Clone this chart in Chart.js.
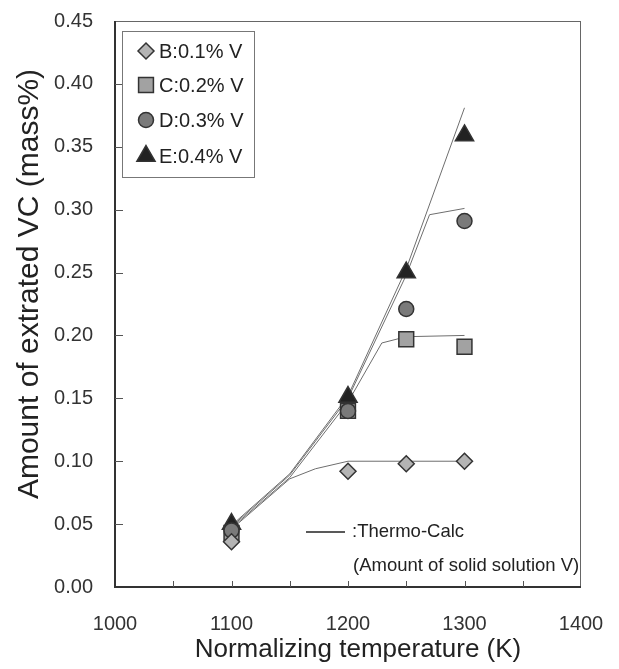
<!DOCTYPE html>
<html>
<head>
<meta charset="utf-8">
<script src="https://cdn.jsdelivr.net/npm/chart.js@4/dist/chart.umd.min.js"></script>
<style>
  html, body { margin: 0; padding: 0; background: #fff; }
  #wrap { width: 619px; height: 669px; position: relative; }
</style>
</head>
<body>
<div id="wrap"><canvas id="vc-chart"></canvas></div>
<script>
// Measured amounts of extracted VC at each normalizing temperature
const temps = [1100, 1200, 1250, 1300];
const steelB = [0.036, 0.092, 0.098, 0.100];
const steelC = [0.043, 0.140, 0.197, 0.191];
const steelD = [0.045, 0.140, 0.221, 0.291];
const steelE = [0.050, 0.151, 0.250, 0.359];

// Thermo-Calc curves (amount of V in solid solution)
const calcBx = [1100, 1150, 1172, 1200, 1300];
const calcBy = [0.046, 0.086, 0.094, 0.100, 0.100];
const calcCx = [1100, 1150, 1200, 1229, 1250, 1300];
const calcCy = [0.047, 0.087, 0.147, 0.194, 0.199, 0.200];
const calcDx = [1100, 1150, 1200, 1250, 1270, 1300];
const calcDy = [0.048, 0.089, 0.150, 0.248, 0.296, 0.301];
const calcEx = [1100, 1150, 1200, 1250, 1300];
const calcEy = [0.049, 0.090, 0.152, 0.253, 0.381];

const xTicks = [1000, 1100, 1200, 1300, 1400];
const xMinorTicks = [1050, 1100, 1150, 1200, 1250, 1300, 1350];
const yTicks = [0.05, 0.10, 0.15, 0.20, 0.25, 0.30, 0.35, 0.40];

const legendLabels = ['B:0.1% V', 'C:0.2% V', 'D:0.3% V', 'E:0.4% V'];
const xTitle = 'Normalizing temperature (K)';
const yTitle = 'Amount of extrated VC (mass%)';

const FONT = "'Liberation Sans', Arial, sans-serif";
const EDGE = '#333';

const pts = (xs, ys) => xs.map((x, i) => ({ x, y: ys[i] }));

const markerSets = [
  { label: legendLabels[0], data: pts(temps, steelB), pointStyle: 'rectRot', pointRadius: 8, backgroundColor: '#b4b4b4', order: 1 },
  { label: legendLabels[1], data: pts(temps, steelC), pointStyle: 'rect', pointRadius: 10.5, backgroundColor: '#a2a2a2', order: 3 },
  { label: legendLabels[2], data: pts(temps, steelD), pointStyle: 'circle', pointRadius: 7.5, backgroundColor: '#7a7a7a', order: 2 },
  { label: legendLabels[3], data: pts(temps, steelE), pointStyle: 'triangle', pointRadius: 10.5, backgroundColor: '#222', order: 4 },
].map(d => Object.assign(d, {
  showLine: false, borderColor: EDGE, borderWidth: 1.5, pointBorderWidth: 1.5,
  pointBackgroundColor: d.backgroundColor, pointBorderColor: EDGE, pointHoverRadius: d.pointRadius,
}));

const calcSets = [[calcBx, calcBy], [calcCx, calcCy], [calcDx, calcDy], [calcEx, calcEy]].map(([xs, ys]) => ({
  label: 'Thermo-Calc', data: pts(xs, ys), showLine: true, pointRadius: 0,
  borderColor: '#6e6e6e', borderWidth: 1, tension: 0, order: 10,
}));

// keep the plot area fixed: no extra room reserved for edge tick labels
const noEdgePadding = s => {
  s.paddingTop = 0; s.paddingBottom = 0; s.paddingLeft = 0; s.paddingRight = 0;
};

// frame, inward tick marks, axis titles, legend box and the Thermo-Calc note
const decorations = {
  id: 'decorations',
  afterDatasetsDraw(chart) {
    const { ctx, chartArea: a, scales: { x, y } } = chart;
    ctx.save();
    ctx.strokeStyle = '#666';
    ctx.lineWidth = 1;
    ctx.beginPath();
    ctx.moveTo(a.left, a.top + 0.5); ctx.lineTo(a.right, a.top + 0.5);
    ctx.moveTo(a.right - 0.5, a.top); ctx.lineTo(a.right - 0.5, a.bottom);
    ctx.stroke();
    ctx.strokeStyle = EDGE;
    ctx.lineWidth = 2;
    ctx.beginPath();
    ctx.moveTo(a.left, a.top); ctx.lineTo(a.left, a.bottom); ctx.lineTo(a.right, a.bottom);
    ctx.stroke();

    ctx.lineWidth = 1;
    ctx.strokeStyle = '#555';
    ctx.beginPath();
    xMinorTicks.forEach(v => {
      const px = Math.round(x.getPixelForValue(v)) + 0.5;
      ctx.moveTo(px, a.bottom); ctx.lineTo(px, a.bottom - 6);
    });
    yTicks.forEach(v => {
      const py = Math.round(y.getPixelForValue(v)) + 0.5;
      ctx.moveTo(a.left, py); ctx.lineTo(a.left + 8, py);
    });
    ctx.stroke();

    // axis titles
    ctx.fillStyle = '#222';
    ctx.textAlign = 'center';
    ctx.font = '26px ' + FONT;
    ctx.textBaseline = 'alphabetic';
    ctx.fillText(xTitle, 358, 657);
    ctx.save();
    ctx.translate(30, 284);
    ctx.rotate(-Math.PI / 2);
    ctx.font = '30px ' + FONT;
    ctx.textBaseline = 'middle';
    ctx.fillText(yTitle, 0, 0);
    ctx.restore();
    ctx.textAlign = 'left';

    // legend
    ctx.strokeStyle = '#777';
    ctx.lineWidth = 1;
    ctx.strokeRect(122.5, 31.5, 132, 146);
    ctx.font = '20px ' + FONT;
    ctx.textBaseline = 'middle';
    const rows = [51, 85, 120, 156];
    markerSets.forEach((d, i) => {
      ctx.fillStyle = d.backgroundColor;
      ctx.strokeStyle = EDGE;
      ctx.lineWidth = 1.5;
      Chart.helpers.drawPoint(ctx, { pointStyle: d.pointStyle, radius: d.pointRadius, borderWidth: 1.5 }, 146, rows[i]);
      ctx.fillStyle = '#222';
      ctx.fillText(legendLabels[i], 159, rows[i] + 1);
    });

    // Thermo-Calc note
    ctx.strokeStyle = '#222';
    ctx.lineWidth = 1.5;
    ctx.beginPath();
    ctx.moveTo(306, 532); ctx.lineTo(345, 532);
    ctx.stroke();
    ctx.fillStyle = '#222';
    ctx.font = '18.5px ' + FONT;
    ctx.fillText(':Thermo-Calc', 352, 532);
    ctx.fillText('(Amount of solid solution V)', 353, 566);
    ctx.restore();
  },
};

new Chart(document.getElementById('vc-chart'), {
  type: 'scatter',
  data: { datasets: [...markerSets, ...calcSets] },
  options: {
    responsive: true, maintainAspectRatio: false, animation: false,
    layout: { padding: { top: 21, right: 38, left: 0, bottom: 0 } },
    plugins: { legend: { display: false }, tooltip: { enabled: false } },
    scales: {
      x: {
        type: 'linear', min: 1000, max: 1400,
        afterFit: s => { s.height = 82; noEdgePadding(s); },
        afterBuildTicks: s => { s.ticks = xTicks.map(v => ({ value: v })); },
        grid: { display: false, drawTicks: false },
        border: { display: false },
        ticks: { color: '#333', padding: 25, font: { family: FONT, size: 20 }, autoSkip: false, maxRotation: 0, callback: v => String(v) },
      },
      y: {
        type: 'linear', min: 0, max: 0.45,
        afterFit: s => { s.width = 115; noEdgePadding(s); },
        afterBuildTicks: s => { s.ticks = [0, ...yTicks, 0.45].map(v => ({ value: v })); },
        grid: { display: false, drawTicks: false },
        border: { display: false },
        ticks: { color: '#333', padding: 22, font: { family: FONT, size: 20 }, callback: v => v.toFixed(2) },
      },
    },
  },
  plugins: [decorations],
});
</script>
</body>
</html>
